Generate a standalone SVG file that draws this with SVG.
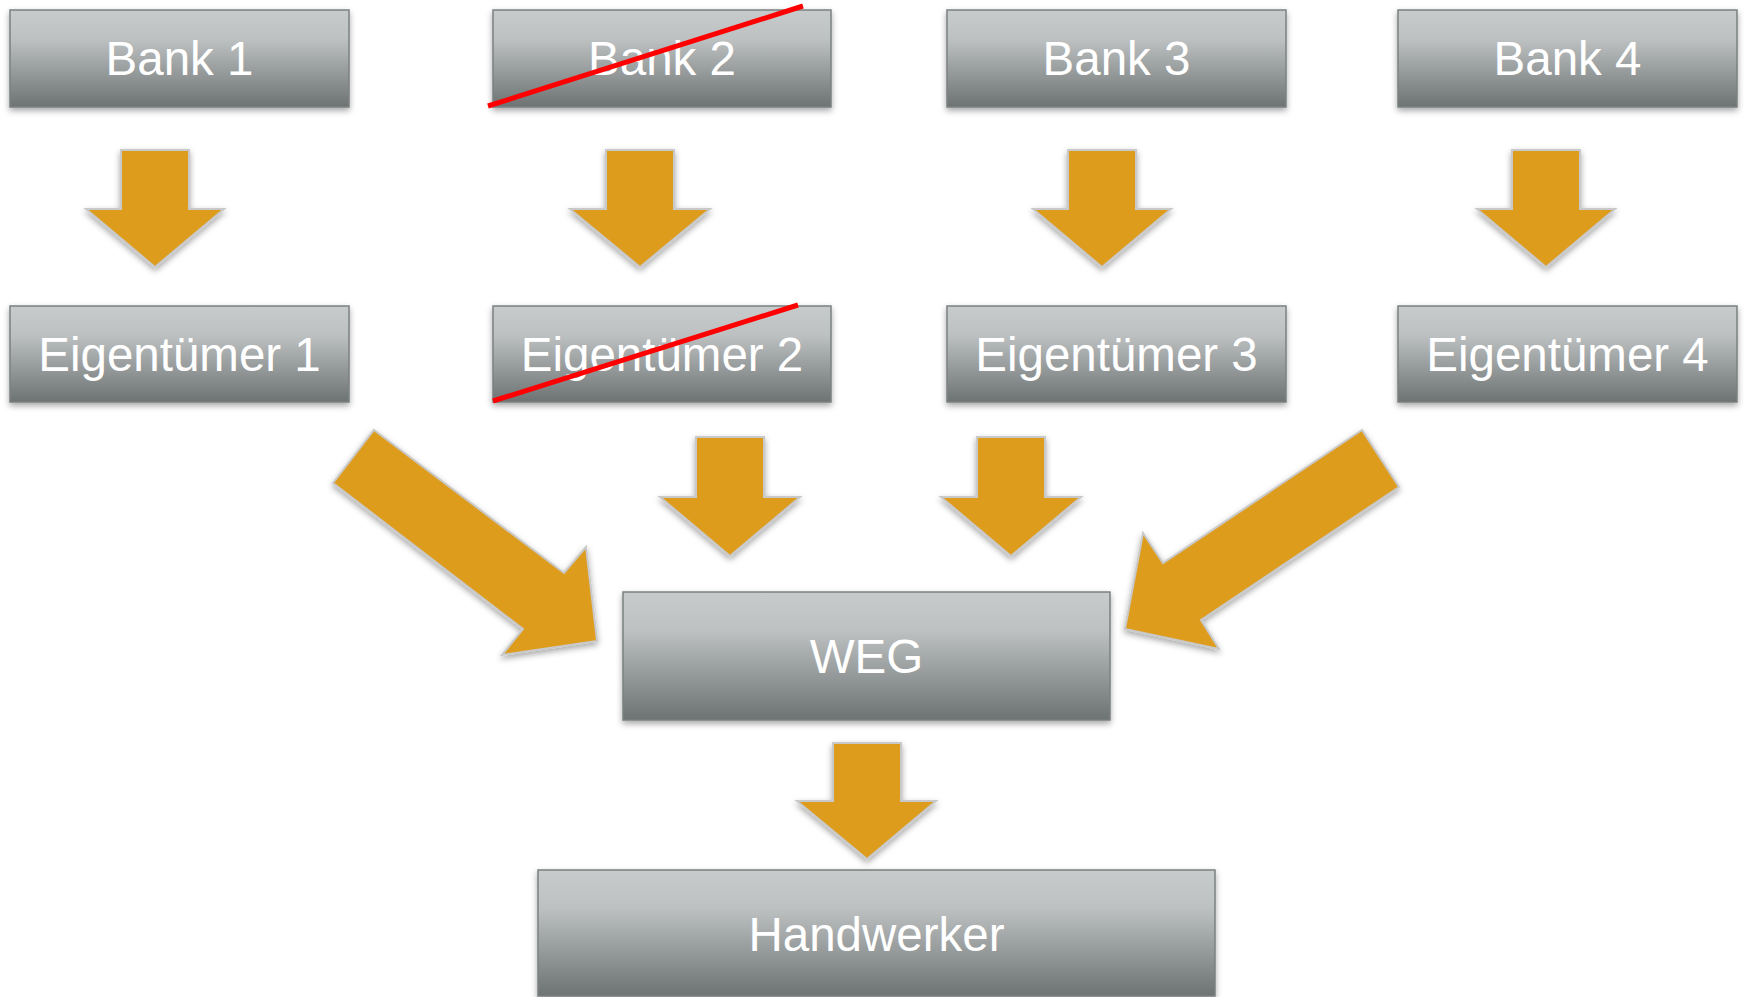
<svg xmlns="http://www.w3.org/2000/svg" width="1744" height="997" viewBox="0 0 1744 997">
<defs>
<linearGradient id="boxGrad" x1="0" y1="0" x2="0" y2="1">
<stop offset="0" stop-color="#c7cbcc"/>
<stop offset="0.3" stop-color="#bdc1c2"/>
<stop offset="1" stop-color="#6d7272"/>
</linearGradient>
<filter id="shadow" x="-10%" y="-10%" width="120%" height="130%">
<feDropShadow dx="0" dy="3" stdDeviation="3" flood-color="#000" flood-opacity="0.35"/>
</filter>
</defs>
<style>
.box{fill:url(#boxGrad);stroke:#7b8080;stroke-width:1.5;filter:url(#shadow)}
.lbl{font-family:"Liberation Sans",Arial,sans-serif;font-size:47.5px;fill:#ffffff;text-anchor:middle}
.arr{fill:#de9c1f;stroke:#c9c9c9;stroke-width:2;stroke-linejoin:miter;filter:url(#shadow)}
.cross{stroke:#ff0000;stroke-width:5;stroke-linecap:butt}
</style>
<rect width="1744" height="997" fill="#ffffff"/>

<g id="bank1"><rect class="box" x="10" y="10" width="339" height="97"/><text class="lbl" x="179.5" y="75">Bank 1</text></g>
<g id="bank2"><rect class="box" x="493" y="10" width="338" height="97"/><text class="lbl" x="662" y="75">Bank 2</text><line class="cross" x1="488" y1="106" x2="803" y2="6"/></g>
<g id="bank3"><rect class="box" x="947" y="10" width="339" height="97"/><text class="lbl" x="1116.5" y="75">Bank 3</text></g>
<g id="bank4"><rect class="box" x="1398" y="10" width="339" height="97"/><text class="lbl" x="1567.5" y="75">Bank 4</text></g>

<g id="eig1"><rect class="box" x="10" y="306" width="339" height="96"/><text class="lbl" x="179.5" y="371">Eigentümer 1</text></g>
<g id="eig2"><rect class="box" x="493" y="306" width="338" height="96"/><text class="lbl" x="662" y="371">Eigentümer 2</text><line class="cross" x1="493" y1="401" x2="798" y2="305"/></g>
<g id="eig3"><rect class="box" x="947" y="306" width="339" height="96"/><text class="lbl" x="1116.5" y="371">Eigentümer 3</text></g>
<g id="eig4"><rect class="box" x="1398" y="306" width="339" height="96"/><text class="lbl" x="1567.5" y="371">Eigentümer 4</text></g>

<g id="weg"><rect class="box" x="623" y="592" width="487" height="128"/><text class="lbl" x="866.5" y="673">WEG</text></g>
<g id="handwerker"><rect class="box" x="538" y="870" width="677" height="126"/><text class="lbl" x="876.5" y="951">Handwerker</text></g>

<g id="connectors">
<polygon class="arr" points="121,150 189,150 189,209 224,209 155,267 86,209 121,209"/>
<polygon class="arr" points="606,150 674,150 674,209 710,209 640,267 570,209 606,209"/>
<polygon class="arr" points="1068,150 1136,150 1136,209 1171,209 1102,267 1033,209 1068,209"/>
<polygon class="arr" points="1512,150 1580,150 1580,209 1615,209 1546,267 1477,209 1512,209"/>

<polygon class="arr" points="696,437 764,437 764,497 800,497 730,556 660,497 696,497"/>
<polygon class="arr" points="977,437 1045,437 1045,497 1081,497 1011,556 941,497 977,497"/>

<polygon class="arr" points="374,430 564,573 586,547 597,641 502,655 523,629 333,483"/>
<polygon class="arr" points="1362,430 1163,563 1143,533 1125,629 1219,649 1201,620 1399,487"/>

<polygon class="arr" points="833,743 901,743 901,801 936,801 867,859 797,801 833,801"/>
</g>
</svg>
